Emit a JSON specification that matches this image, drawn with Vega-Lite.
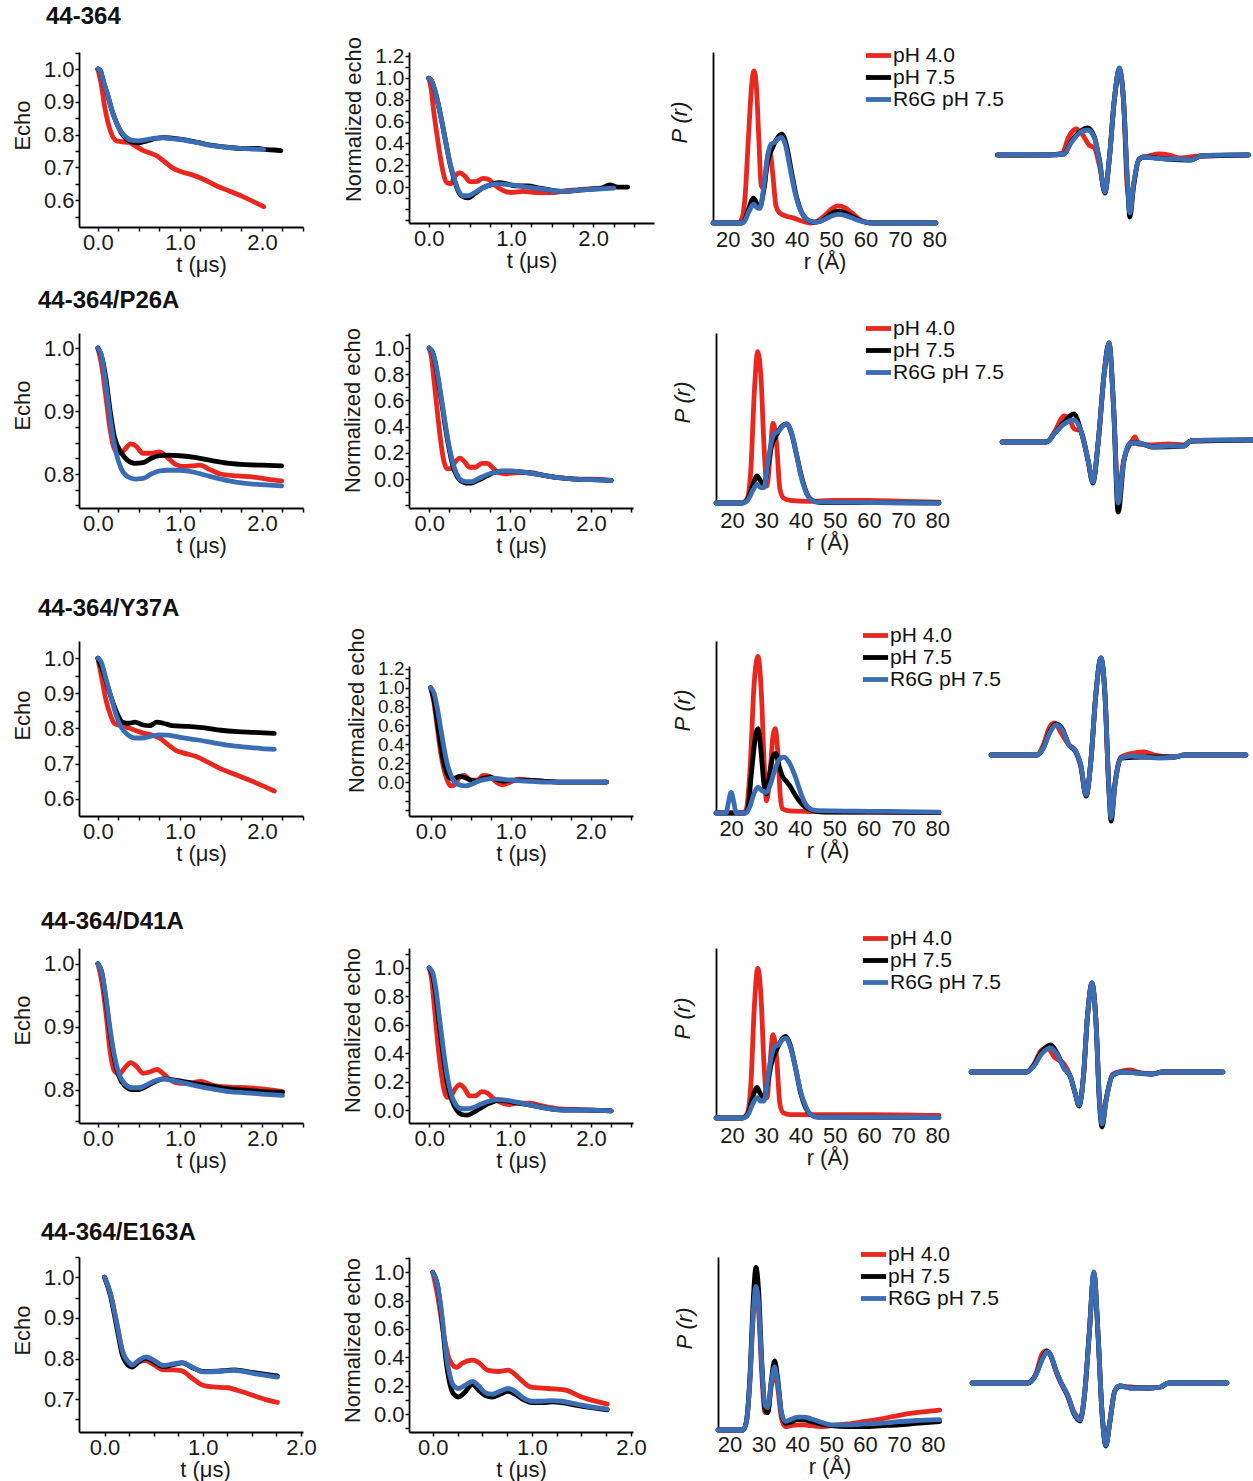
{
"$schema":"https://vega.github.io/schema/vega-lite/v6.json",
"background":"white",
"padding":{"left":11,"top":5,"right":0,"bottom":2},
"config":{
 "font":"Liberation Sans",
 "view":{"stroke":null},
 "range":{"category":["#e8281f","#000000","#3b6db5"]},
 "line":{"strokeWidth":4.8,"strokeCap":"round","strokeJoin":"round","interpolate":"monotone"},
 "axis":{"grid":false,"domainColor":"#000","domainWidth":1.8,"tickColor":"#000","tickWidth":1.5,"tickSize":4,"labelFont":"Liberation Sans","labelFontSize":22,"labelColor":"#1a1a1a","labelPadding":1,"titleFont":"Liberation Sans","titleFontSize":22,"titleFontWeight":"normal","titleColor":"#1a1a1a","labelOverlap":false,"labelFlush":false,"labelBound":false},
 "axisX":{"titlePadding":1},
 "axisY":{"titlePadding":9},
 "legend":{"orient":"none","symbolType":"M-1.4,0H1.4","symbolStrokeWidth":5,"symbolSize":324,"labelFont":"Liberation Sans","labelFontSize":21,"labelColor":"#111","rowPadding":0,"labelOffset":3,"padding":0,"labelLimit":300},
 "title":{"font":"Liberation Sans","fontSize":24,"fontWeight":"bold","color":"#111","anchor":"start","frame":"group"}
},
"datasets":{
"r1a":[
{"s":"A","x":0,"y":1.0},{"s":"A","x":0.04,"y":0.955},{"s":"A","x":0.08,"y":0.89},{"s":"A","x":0.12,"y":0.84},{"s":"A","x":0.17,"y":0.8},{"s":"A","x":0.22,"y":0.782},{"s":"A","x":0.3,"y":0.778},{"s":"A","x":0.38,"y":0.776},{"s":"A","x":0.45,"y":0.766},{"s":"A","x":0.55,"y":0.752},{"s":"A","x":0.65,"y":0.742},{"s":"A","x":0.72,"y":0.735},{"s":"A","x":0.8,"y":0.72},{"s":"A","x":0.9,"y":0.7},{"s":"A","x":1.0,"y":0.688},{"s":"A","x":1.15,"y":0.677},{"s":"A","x":1.3,"y":0.662},{"s":"A","x":1.45,"y":0.643},{"s":"A","x":1.6,"y":0.628},{"s":"A","x":1.8,"y":0.607},{"s":"A","x":2.02,"y":0.58},
{"s":"B","x":0,"y":1.0},{"s":"B","x":0.03,"y":0.995},{"s":"B","x":0.07,"y":0.96},{"s":"B","x":0.12,"y":0.92},{"s":"B","x":0.17,"y":0.875},{"s":"B","x":0.22,"y":0.84},{"s":"B","x":0.28,"y":0.808},{"s":"B","x":0.34,"y":0.788},{"s":"B","x":0.42,"y":0.777},{"s":"B","x":0.5,"y":0.775},{"s":"B","x":0.6,"y":0.781},{"s":"B","x":0.7,"y":0.788},{"s":"B","x":0.8,"y":0.791},{"s":"B","x":0.9,"y":0.789},{"s":"B","x":1.0,"y":0.786},{"s":"B","x":1.2,"y":0.777},{"s":"B","x":1.4,"y":0.767},{"s":"B","x":1.6,"y":0.761},{"s":"B","x":1.8,"y":0.757},{"s":"B","x":1.95,"y":0.758},{"s":"B","x":2.05,"y":0.754},{"s":"B","x":2.15,"y":0.753},{"s":"B","x":2.23,"y":0.751},
{"s":"C","x":0,"y":1.0},{"s":"C","x":0.03,"y":0.995},{"s":"C","x":0.07,"y":0.96},{"s":"C","x":0.12,"y":0.92},{"s":"C","x":0.17,"y":0.875},{"s":"C","x":0.22,"y":0.84},{"s":"C","x":0.28,"y":0.81},{"s":"C","x":0.34,"y":0.793},{"s":"C","x":0.42,"y":0.782},{"s":"C","x":0.5,"y":0.781},{"s":"C","x":0.6,"y":0.785},{"s":"C","x":0.7,"y":0.789},{"s":"C","x":0.8,"y":0.79},{"s":"C","x":0.9,"y":0.788},{"s":"C","x":1.0,"y":0.785},{"s":"C","x":1.2,"y":0.776},{"s":"C","x":1.4,"y":0.766},{"s":"C","x":1.6,"y":0.76},{"s":"C","x":1.8,"y":0.757},{"s":"C","x":2.02,"y":0.754}
],
"r1b":[
{"s":"A","x":0,"y":1.0},{"s":"A","x":0.03,"y":0.9},{"s":"A","x":0.06,"y":0.7},{"s":"A","x":0.1,"y":0.48},{"s":"A","x":0.14,"y":0.28},{"s":"A","x":0.18,"y":0.12},{"s":"A","x":0.22,"y":0.04},{"s":"A","x":0.27,"y":0.03},{"s":"A","x":0.32,"y":0.1},{"s":"A","x":0.38,"y":0.13},{"s":"A","x":0.44,"y":0.1},{"s":"A","x":0.5,"y":0.05},{"s":"A","x":0.58,"y":0.05},{"s":"A","x":0.66,"y":0.08},{"s":"A","x":0.73,"y":0.07},{"s":"A","x":0.8,"y":0.02},{"s":"A","x":0.9,"y":-0.03},{"s":"A","x":1.0,"y":-0.05},{"s":"A","x":1.15,"y":-0.04},{"s":"A","x":1.3,"y":-0.05},{"s":"A","x":1.5,"y":-0.05},{"s":"A","x":1.7,"y":-0.03},{"s":"A","x":1.9,"y":-0.02},{"s":"A","x":2.1,"y":-0.01},{"s":"A","x":2.25,"y":0.0},
{"s":"B","x":0,"y":1.0},{"s":"B","x":0.03,"y":0.98},{"s":"B","x":0.07,"y":0.9},{"s":"B","x":0.11,"y":0.78},{"s":"B","x":0.16,"y":0.6},{"s":"B","x":0.21,"y":0.4},{"s":"B","x":0.26,"y":0.21},{"s":"B","x":0.31,"y":0.07},{"s":"B","x":0.36,"y":-0.04},{"s":"B","x":0.42,"y":-0.09},{"s":"B","x":0.48,"y":-0.1},{"s":"B","x":0.56,"y":-0.06},{"s":"B","x":0.65,"y":-0.01},{"s":"B","x":0.75,"y":0.02},{"s":"B","x":0.85,"y":0.04},{"s":"B","x":0.95,"y":0.03},{"s":"B","x":1.05,"y":0.01},{"s":"B","x":1.2,"y":0.01},{"s":"B","x":1.35,"y":-0.01},{"s":"B","x":1.5,"y":-0.03},{"s":"B","x":1.65,"y":-0.04},{"s":"B","x":1.8,"y":-0.03},{"s":"B","x":1.95,"y":-0.02},{"s":"B","x":2.1,"y":-0.01},{"s":"B","x":2.2,"y":0.02},{"s":"B","x":2.3,"y":0.0},{"s":"B","x":2.42,"y":0.0},
{"s":"C","x":0,"y":1.0},{"s":"C","x":0.03,"y":0.98},{"s":"C","x":0.07,"y":0.9},{"s":"C","x":0.11,"y":0.78},{"s":"C","x":0.16,"y":0.6},{"s":"C","x":0.21,"y":0.4},{"s":"C","x":0.26,"y":0.22},{"s":"C","x":0.31,"y":0.08},{"s":"C","x":0.36,"y":-0.03},{"s":"C","x":0.42,"y":-0.08},{"s":"C","x":0.48,"y":-0.08},{"s":"C","x":0.56,"y":-0.05},{"s":"C","x":0.65,"y":-0.01},{"s":"C","x":0.75,"y":0.02},{"s":"C","x":0.85,"y":0.03},{"s":"C","x":1.0,"y":0.02},{"s":"C","x":1.2,"y":0.0},{"s":"C","x":1.4,"y":-0.02},{"s":"C","x":1.6,"y":-0.04},{"s":"C","x":1.8,"y":-0.03},{"s":"C","x":2.0,"y":-0.02},{"s":"C","x":2.25,"y":-0.01}
],
"r1c":[
{"s":"A","x":15.7,"y":0},{"s":"A","x":23,"y":0},{"s":"A","x":24,"y":0.02},{"s":"A","x":25,"y":0.15},{"s":"A","x":26,"y":0.5},{"s":"A","x":27,"y":0.82},{"s":"A","x":27.6,"y":0.89},{"s":"A","x":28.3,"y":0.8},{"s":"A","x":29,"y":0.5},{"s":"A","x":29.7,"y":0.22},{"s":"A","x":30.5,"y":0.2},{"s":"A","x":31.3,"y":0.35},{"s":"A","x":32.1,"y":0.43},{"s":"A","x":33,"y":0.3},{"s":"A","x":34,"y":0.1},{"s":"A","x":35,"y":0.06},{"s":"A","x":37,"y":0.04},{"s":"A","x":39,"y":0.03},{"s":"A","x":41,"y":0.015},{"s":"A","x":44,"y":0.0},{"s":"A","x":46,"y":0.01},{"s":"A","x":48,"y":0.04},{"s":"A","x":50,"y":0.08},{"s":"A","x":52,"y":0.1},{"s":"A","x":54,"y":0.09},{"s":"A","x":56,"y":0.06},{"s":"A","x":58,"y":0.025},{"s":"A","x":60,"y":0.005},{"s":"A","x":62,"y":0},{"s":"A","x":80.5,"y":0},
{"s":"B","x":15.7,"y":0},{"s":"B","x":24,"y":0},{"s":"B","x":25,"y":0.02},{"s":"B","x":26,"y":0.08},{"s":"B","x":27.5,"y":0.145},{"s":"B","x":28.5,"y":0.11},{"s":"B","x":29.3,"y":0.09},{"s":"B","x":30.5,"y":0.2},{"s":"B","x":31.5,"y":0.35},{"s":"B","x":33,"y":0.44},{"s":"B","x":34.5,"y":0.5},{"s":"B","x":35.7,"y":0.52},{"s":"B","x":37,"y":0.46},{"s":"B","x":38.5,"y":0.3},{"s":"B","x":40,"y":0.15},{"s":"B","x":41.5,"y":0.06},{"s":"B","x":43,"y":0.02},{"s":"B","x":45,"y":0.005},{"s":"B","x":47,"y":0.01},{"s":"B","x":49,"y":0.04},{"s":"B","x":51,"y":0.065},{"s":"B","x":52.5,"y":0.07},{"s":"B","x":54,"y":0.06},{"s":"B","x":56,"y":0.04},{"s":"B","x":58,"y":0.018},{"s":"B","x":60,"y":0.005},{"s":"B","x":62,"y":0},{"s":"B","x":80.5,"y":0},
{"s":"C","x":15.7,"y":0},{"s":"C","x":24,"y":0},{"s":"C","x":25,"y":0.015},{"s":"C","x":26,"y":0.06},{"s":"C","x":27.5,"y":0.11},{"s":"C","x":28.5,"y":0.09},{"s":"C","x":29.3,"y":0.085},{"s":"C","x":30.5,"y":0.22},{"s":"C","x":31.5,"y":0.38},{"s":"C","x":32.5,"y":0.46},{"s":"C","x":33.5,"y":0.47},{"s":"C","x":34.5,"y":0.49},{"s":"C","x":35.5,"y":0.5},{"s":"C","x":36.7,"y":0.46},{"s":"C","x":38,"y":0.33},{"s":"C","x":39.5,"y":0.18},{"s":"C","x":41,"y":0.08},{"s":"C","x":42.5,"y":0.03},{"s":"C","x":44,"y":0.01},{"s":"C","x":46,"y":0.005},{"s":"C","x":48,"y":0.02},{"s":"C","x":50,"y":0.04},{"s":"C","x":52,"y":0.05},{"s":"C","x":54,"y":0.045},{"s":"C","x":56,"y":0.03},{"s":"C","x":58,"y":0.015},{"s":"C","x":60,"y":0.005},{"s":"C","x":62,"y":0},{"s":"C","x":80.5,"y":0}
],
"r1d":[
{"s":"A","x":0.7,"y":0},{"s":"A","x":20,"y":0},{"s":"A","x":26,"y":0.02},{"s":"A","x":28.5,"y":0.18},{"s":"A","x":31.5,"y":0.26},{"s":"A","x":34,"y":0.2},{"s":"A","x":36.5,"y":0.1},{"s":"A","x":38.6,"y":0.07},{"s":"A","x":40.5,"y":-0.1},{"s":"A","x":42.7,"y":-0.35},{"s":"A","x":44.4,"y":-0.05},{"s":"A","x":46.4,"y":0.55},{"s":"A","x":48.4,"y":0.85},{"s":"A","x":50,"y":0.55},{"s":"A","x":51.4,"y":-0.3},{"s":"A","x":52,"y":-0.42},{"s":"A","x":52.6,"y":-0.48},{"s":"A","x":54,"y":-0.3},{"s":"A","x":56,"y":-0.04},{"s":"A","x":60,"y":-0.01},{"s":"A","x":64,"y":0.01},{"s":"A","x":68,"y":0},{"s":"A","x":72,"y":-0.03},{"s":"A","x":80,"y":-0.01},{"s":"A","x":99,"y":0},
{"s":"B","x":0.5,"y":0},{"s":"B","x":20,"y":0},{"s":"B","x":26.7,"y":0.01},{"s":"B","x":29.4,"y":0.13},{"s":"B","x":33.3,"y":0.24},{"s":"B","x":36,"y":0.27},{"s":"B","x":38.6,"y":0.18},{"s":"B","x":40.5,"y":-0.04},{"s":"B","x":42.7,"y":-0.38},{"s":"B","x":44.4,"y":-0.05},{"s":"B","x":46.4,"y":0.55},{"s":"B","x":48.4,"y":0.86},{"s":"B","x":50,"y":0.55},{"s":"B","x":51.6,"y":-0.3},{"s":"B","x":52.5,"y":-0.62},{"s":"B","x":54,"y":-0.3},{"s":"B","x":56,"y":-0.05},{"s":"B","x":58,"y":-0.02},{"s":"B","x":67,"y":-0.04},{"s":"B","x":76.5,"y":-0.05},{"s":"B","x":80.4,"y":-0.01},{"s":"B","x":99,"y":0},
{"s":"C","x":0.7,"y":0},{"s":"C","x":10,"y":0.005},{"s":"C","x":20,"y":0},{"s":"C","x":26.7,"y":0.01},{"s":"C","x":29.4,"y":0.12},{"s":"C","x":33.3,"y":0.23},{"s":"C","x":36,"y":0.25},{"s":"C","x":38.6,"y":0.17},{"s":"C","x":40.5,"y":-0.05},{"s":"C","x":42.7,"y":-0.37},{"s":"C","x":44.4,"y":-0.05},{"s":"C","x":46.4,"y":0.55},{"s":"C","x":48.4,"y":0.87},{"s":"C","x":50,"y":0.55},{"s":"C","x":51.6,"y":-0.28},{"s":"C","x":52.5,"y":-0.58},{"s":"C","x":54,"y":-0.28},{"s":"C","x":56,"y":-0.05},{"s":"C","x":58,"y":-0.02},{"s":"C","x":62,"y":-0.03},{"s":"C","x":67.3,"y":-0.04},{"s":"C","x":72,"y":-0.04},{"s":"C","x":76.5,"y":-0.05},{"s":"C","x":80.4,"y":-0.01},{"s":"C","x":90,"y":0},{"s":"C","x":99,"y":0}
],
"r2a":[
{"s":"A","x":0,"y":1.0},{"s":"A","x":0.05,"y":0.97},{"s":"A","x":0.1,"y":0.92},{"s":"A","x":0.15,"y":0.87},{"s":"A","x":0.2,"y":0.84},{"s":"A","x":0.25,"y":0.833},{"s":"A","x":0.32,"y":0.838},{"s":"A","x":0.4,"y":0.848},{"s":"A","x":0.46,"y":0.845},{"s":"A","x":0.55,"y":0.833},{"s":"A","x":0.65,"y":0.833},{"s":"A","x":0.75,"y":0.835},{"s":"A","x":0.85,"y":0.826},{"s":"A","x":0.95,"y":0.815},{"s":"A","x":1.05,"y":0.812},{"s":"A","x":1.15,"y":0.813},{"s":"A","x":1.25,"y":0.814},{"s":"A","x":1.35,"y":0.808},{"s":"A","x":1.5,"y":0.8},{"s":"A","x":1.7,"y":0.797},{"s":"A","x":1.9,"y":0.795},{"s":"A","x":2.1,"y":0.791},{"s":"A","x":2.24,"y":0.789},
{"s":"B","x":0,"y":1.0},{"s":"B","x":0.05,"y":0.985},{"s":"B","x":0.1,"y":0.95},{"s":"B","x":0.15,"y":0.9},{"s":"B","x":0.2,"y":0.86},{"s":"B","x":0.28,"y":0.835},{"s":"B","x":0.36,"y":0.822},{"s":"B","x":0.45,"y":0.817},{"s":"B","x":0.55,"y":0.818},{"s":"B","x":0.65,"y":0.825},{"s":"B","x":0.75,"y":0.829},{"s":"B","x":0.85,"y":0.83},{"s":"B","x":1.0,"y":0.829},{"s":"B","x":1.2,"y":0.826},{"s":"B","x":1.4,"y":0.821},{"s":"B","x":1.6,"y":0.817},{"s":"B","x":1.8,"y":0.815},{"s":"B","x":2.0,"y":0.814},{"s":"B","x":2.24,"y":0.813},
{"s":"C","x":0,"y":1.0},{"s":"C","x":0.04,"y":0.99},{"s":"C","x":0.08,"y":0.96},{"s":"C","x":0.12,"y":0.92},{"s":"C","x":0.17,"y":0.87},{"s":"C","x":0.22,"y":0.835},{"s":"C","x":0.28,"y":0.81},{"s":"C","x":0.35,"y":0.797},{"s":"C","x":0.45,"y":0.792},{"s":"C","x":0.55,"y":0.793},{"s":"C","x":0.65,"y":0.8},{"s":"C","x":0.75,"y":0.805},{"s":"C","x":0.85,"y":0.806},{"s":"C","x":1.0,"y":0.806},{"s":"C","x":1.2,"y":0.802},{"s":"C","x":1.4,"y":0.795},{"s":"C","x":1.6,"y":0.789},{"s":"C","x":1.8,"y":0.785},{"s":"C","x":2.0,"y":0.783},{"s":"C","x":2.24,"y":0.781}
],
"r2b":[
{"s":"A","x":0,"y":1.0},{"s":"A","x":0.03,"y":0.92},{"s":"A","x":0.06,"y":0.75},{"s":"A","x":0.1,"y":0.52},{"s":"A","x":0.14,"y":0.3},{"s":"A","x":0.18,"y":0.14},{"s":"A","x":0.22,"y":0.08},{"s":"A","x":0.27,"y":0.08},{"s":"A","x":0.32,"y":0.13},{"s":"A","x":0.38,"y":0.16},{"s":"A","x":0.44,"y":0.13},{"s":"A","x":0.5,"y":0.09},{"s":"A","x":0.57,"y":0.09},{"s":"A","x":0.65,"y":0.12},{"s":"A","x":0.72,"y":0.12},{"s":"A","x":0.78,"y":0.09},{"s":"A","x":0.85,"y":0.05},{"s":"A","x":0.95,"y":0.04},{"s":"A","x":1.1,"y":0.05},{"s":"A","x":1.25,"y":0.05},{"s":"A","x":1.4,"y":0.03},{"s":"A","x":1.6,"y":0.01},{"s":"A","x":1.8,"y":0.0},{"s":"A","x":2.0,"y":0.0},{"s":"A","x":2.25,"y":-0.01},
{"s":"B","x":0,"y":1.0},{"s":"B","x":0.04,"y":0.97},{"s":"B","x":0.08,"y":0.87},{"s":"B","x":0.12,"y":0.72},{"s":"B","x":0.17,"y":0.52},{"s":"B","x":0.22,"y":0.32},{"s":"B","x":0.27,"y":0.16},{"s":"B","x":0.32,"y":0.05},{"s":"B","x":0.38,"y":-0.01},{"s":"B","x":0.45,"y":-0.03},{"s":"B","x":0.52,"y":-0.03},{"s":"B","x":0.6,"y":-0.01},{"s":"B","x":0.7,"y":0.02},{"s":"B","x":0.8,"y":0.05},{"s":"B","x":0.9,"y":0.06},{"s":"B","x":1.0,"y":0.06},{"s":"B","x":1.2,"y":0.05},{"s":"B","x":1.4,"y":0.03},{"s":"B","x":1.6,"y":0.01},{"s":"B","x":1.8,"y":0.0},{"s":"B","x":2.0,"y":-0.005},{"s":"B","x":2.25,"y":-0.01},
{"s":"C","x":0,"y":1.0},{"s":"C","x":0.04,"y":0.97},{"s":"C","x":0.08,"y":0.88},{"s":"C","x":0.12,"y":0.74},{"s":"C","x":0.17,"y":0.54},{"s":"C","x":0.22,"y":0.34},{"s":"C","x":0.27,"y":0.18},{"s":"C","x":0.32,"y":0.07},{"s":"C","x":0.38,"y":0.0},{"s":"C","x":0.45,"y":-0.02},{"s":"C","x":0.52,"y":-0.02},{"s":"C","x":0.6,"y":0.0},{"s":"C","x":0.7,"y":0.03},{"s":"C","x":0.8,"y":0.05},{"s":"C","x":0.9,"y":0.06},{"s":"C","x":1.0,"y":0.06},{"s":"C","x":1.2,"y":0.05},{"s":"C","x":1.4,"y":0.03},{"s":"C","x":1.6,"y":0.01},{"s":"C","x":1.8,"y":0.0},{"s":"C","x":2.0,"y":-0.005},{"s":"C","x":2.25,"y":-0.01}
],
"r2c":[
{"s":"A","x":15.3,"y":0},{"s":"A","x":23,"y":0},{"s":"A","x":24.5,"y":0.03},{"s":"A","x":25.5,"y":0.2},{"s":"A","x":26.5,"y":0.65},{"s":"A","x":27.5,"y":0.89},{"s":"A","x":28.5,"y":0.72},{"s":"A","x":29.3,"y":0.35},{"s":"A","x":30.2,"y":0.1},{"s":"A","x":31,"y":0.25},{"s":"A","x":32,"y":0.47},{"s":"A","x":33,"y":0.35},{"s":"A","x":34,"y":0.08},{"s":"A","x":35,"y":0.03},{"s":"A","x":37,"y":0.015},{"s":"A","x":42,"y":0.01},{"s":"A","x":50,"y":0.015},{"s":"A","x":60,"y":0.015},{"s":"A","x":70,"y":0.01},{"s":"A","x":80.5,"y":0.005},
{"s":"B","x":15.3,"y":0},{"s":"B","x":23,"y":0},{"s":"B","x":24.5,"y":0.02},{"s":"B","x":26,"y":0.1},{"s":"B","x":27.3,"y":0.16},{"s":"B","x":28.3,"y":0.13},{"s":"B","x":29.3,"y":0.1},{"s":"B","x":30.5,"y":0.22},{"s":"B","x":31.5,"y":0.33},{"s":"B","x":33,"y":0.4},{"s":"B","x":34.5,"y":0.45},{"s":"B","x":36,"y":0.465},{"s":"B","x":37.5,"y":0.4},{"s":"B","x":39,"y":0.27},{"s":"B","x":40.5,"y":0.14},{"s":"B","x":42,"y":0.05},{"s":"B","x":44,"y":0.01},{"s":"B","x":46,"y":0.003},{"s":"B","x":60,"y":0.003},{"s":"B","x":80.5,"y":0},
{"s":"C","x":15.3,"y":0},{"s":"C","x":23,"y":0},{"s":"C","x":24.5,"y":0.015},{"s":"C","x":26,"y":0.07},{"s":"C","x":27.3,"y":0.11},{"s":"C","x":28.3,"y":0.09},{"s":"C","x":29.3,"y":0.09},{"s":"C","x":30.5,"y":0.24},{"s":"C","x":31.5,"y":0.36},{"s":"C","x":32.5,"y":0.41},{"s":"C","x":33.5,"y":0.42},{"s":"C","x":35,"y":0.455},{"s":"C","x":36,"y":0.465},{"s":"C","x":37.3,"y":0.42},{"s":"C","x":38.7,"y":0.3},{"s":"C","x":40,"y":0.17},{"s":"C","x":41.5,"y":0.07},{"s":"C","x":43,"y":0.02},{"s":"C","x":45,"y":0.005},{"s":"C","x":60,"y":0.003},{"s":"C","x":80.5,"y":0}
],
"r2d":[
{"s":"A","x":0.4,"y":-0.01},{"s":"A","x":18,"y":-0.01},{"s":"A","x":21.3,"y":0.1},{"s":"A","x":25,"y":0.25},{"s":"A","x":27,"y":0.22},{"s":"A","x":29,"y":0.12},{"s":"A","x":31.6,"y":0.1},{"s":"A","x":34.4,"y":-0.2},{"s":"A","x":36.3,"y":-0.4},{"s":"A","x":38.5,"y":0.01},{"s":"A","x":40.8,"y":0.68},{"s":"A","x":42.7,"y":0.97},{"s":"A","x":44.5,"y":0.34},{"s":"A","x":46.3,"y":-0.5},{"s":"A","x":48.6,"y":-0.18},{"s":"A","x":51.3,"y":-0.02},{"s":"A","x":53,"y":0.04},{"s":"A","x":54.3,"y":-0.03},{"s":"A","x":60,"y":-0.04},{"s":"A","x":66,"y":-0.03},{"s":"A","x":72.3,"y":-0.04},{"s":"A","x":75,"y":0},{"s":"A","x":100,"y":0.01},
{"s":"B","x":0.4,"y":-0.01},{"s":"B","x":18,"y":-0.01},{"s":"B","x":21.3,"y":0.08},{"s":"B","x":25,"y":0.19},{"s":"B","x":28.8,"y":0.27},{"s":"B","x":31.6,"y":0.1},{"s":"B","x":34.4,"y":-0.19},{"s":"B","x":36.3,"y":-0.42},{"s":"B","x":38.5,"y":0.01},{"s":"B","x":40.8,"y":0.68},{"s":"B","x":42.7,"y":0.98},{"s":"B","x":44.5,"y":0.34},{"s":"B","x":46.3,"y":-0.71},{"s":"B","x":48.6,"y":-0.2},{"s":"B","x":51.3,"y":-0.02},{"s":"B","x":54.3,"y":-0.02},{"s":"B","x":60,"y":-0.06},{"s":"B","x":72.3,"y":-0.05},{"s":"B","x":75,"y":0},{"s":"B","x":100,"y":0.01},
{"s":"C","x":0.4,"y":-0.01},{"s":"C","x":10,"y":-0.01},{"s":"C","x":18,"y":-0.01},{"s":"C","x":21.3,"y":0.08},{"s":"C","x":25,"y":0.17},{"s":"C","x":28.8,"y":0.21},{"s":"C","x":31.6,"y":0.1},{"s":"C","x":34.4,"y":-0.19},{"s":"C","x":36.3,"y":-0.41},{"s":"C","x":38.5,"y":0.01},{"s":"C","x":40.8,"y":0.68},{"s":"C","x":42.7,"y":0.98},{"s":"C","x":44.5,"y":0.34},{"s":"C","x":46.3,"y":-0.62},{"s":"C","x":48.6,"y":-0.19},{"s":"C","x":51.3,"y":-0.02},{"s":"C","x":54.3,"y":-0.02},{"s":"C","x":60,"y":-0.06},{"s":"C","x":66,"y":-0.05},{"s":"C","x":72.3,"y":-0.05},{"s":"C","x":75,"y":0},{"s":"C","x":85,"y":0.01},{"s":"C","x":100,"y":0.01}
],
"r3a":[
{"s":"A","x":0,"y":1.0},{"s":"A","x":0.05,"y":0.94},{"s":"A","x":0.1,"y":0.88},{"s":"A","x":0.15,"y":0.84},{"s":"A","x":0.2,"y":0.815},{"s":"A","x":0.28,"y":0.808},{"s":"A","x":0.36,"y":0.803},{"s":"A","x":0.45,"y":0.795},{"s":"A","x":0.55,"y":0.787},{"s":"A","x":0.65,"y":0.782},{"s":"A","x":0.75,"y":0.773},{"s":"A","x":0.85,"y":0.755},{"s":"A","x":0.95,"y":0.738},{"s":"A","x":1.05,"y":0.73},{"s":"A","x":1.2,"y":0.72},{"s":"A","x":1.35,"y":0.703},{"s":"A","x":1.5,"y":0.685},{"s":"A","x":1.7,"y":0.667},{"s":"A","x":1.9,"y":0.648},{"s":"A","x":2.15,"y":0.622},
{"s":"B","x":0,"y":1.0},{"s":"B","x":0.08,"y":0.95},{"s":"B","x":0.16,"y":0.89},{"s":"B","x":0.24,"y":0.84},{"s":"B","x":0.3,"y":0.818},{"s":"B","x":0.38,"y":0.815},{"s":"B","x":0.45,"y":0.818},{"s":"B","x":0.55,"y":0.81},{"s":"B","x":0.63,"y":0.808},{"s":"B","x":0.72,"y":0.818},{"s":"B","x":0.8,"y":0.815},{"s":"B","x":0.9,"y":0.808},{"s":"B","x":1.1,"y":0.806},{"s":"B","x":1.3,"y":0.802},{"s":"B","x":1.5,"y":0.795},{"s":"B","x":1.7,"y":0.791},{"s":"B","x":1.9,"y":0.789},{"s":"B","x":2.15,"y":0.786},
{"s":"C","x":0,"y":1.0},{"s":"C","x":0.04,"y":0.99},{"s":"C","x":0.1,"y":0.94},{"s":"C","x":0.16,"y":0.89},{"s":"C","x":0.22,"y":0.84},{"s":"C","x":0.28,"y":0.805},{"s":"C","x":0.35,"y":0.785},{"s":"C","x":0.45,"y":0.773},{"s":"C","x":0.55,"y":0.773},{"s":"C","x":0.65,"y":0.778},{"s":"C","x":0.75,"y":0.782},{"s":"C","x":0.85,"y":0.781},{"s":"C","x":1.0,"y":0.775},{"s":"C","x":1.2,"y":0.768},{"s":"C","x":1.4,"y":0.76},{"s":"C","x":1.6,"y":0.752},{"s":"C","x":1.8,"y":0.747},{"s":"C","x":2.0,"y":0.743},{"s":"C","x":2.15,"y":0.741}
],
"r3b":[
{"s":"A","x":0,"y":1.0},{"s":"A","x":0.04,"y":0.85},{"s":"A","x":0.08,"y":0.6},{"s":"A","x":0.12,"y":0.35},{"s":"A","x":0.16,"y":0.16},{"s":"A","x":0.2,"y":0.04},{"s":"A","x":0.25,"y":-0.04},{"s":"A","x":0.3,"y":-0.03},{"s":"A","x":0.36,"y":0.05},{"s":"A","x":0.42,"y":0.07},{"s":"A","x":0.5,"y":0.02},{"s":"A","x":0.58,"y":0.02},{"s":"A","x":0.66,"y":0.07},{"s":"A","x":0.74,"y":0.06},{"s":"A","x":0.82,"y":0.0},{"s":"A","x":0.9,"y":-0.03},{"s":"A","x":1.0,"y":0.0},{"s":"A","x":1.1,"y":0.03},{"s":"A","x":1.2,"y":0.02},{"s":"A","x":1.4,"y":0.01},{"s":"A","x":1.6,"y":0.0},{"s":"A","x":1.8,"y":0.0},{"s":"A","x":2.0,"y":0.0},{"s":"A","x":2.2,"y":0.0},
{"s":"B","x":0,"y":1.0},{"s":"B","x":0.04,"y":0.88},{"s":"B","x":0.08,"y":0.66},{"s":"B","x":0.12,"y":0.42},{"s":"B","x":0.16,"y":0.22},{"s":"B","x":0.2,"y":0.1},{"s":"B","x":0.25,"y":0.04},{"s":"B","x":0.3,"y":0.04},{"s":"B","x":0.36,"y":0.06},{"s":"B","x":0.42,"y":0.05},{"s":"B","x":0.5,"y":0.02},{"s":"B","x":0.58,"y":0.01},{"s":"B","x":0.66,"y":0.04},{"s":"B","x":0.74,"y":0.05},{"s":"B","x":0.82,"y":0.03},{"s":"B","x":0.9,"y":0.01},{"s":"B","x":1.0,"y":0.02},{"s":"B","x":1.2,"y":0.02},{"s":"B","x":1.4,"y":0.01},{"s":"B","x":1.6,"y":0.0},{"s":"B","x":2.0,"y":0.0},{"s":"B","x":2.2,"y":0.0},
{"s":"C","x":0,"y":1.0},{"s":"C","x":0.04,"y":0.95},{"s":"C","x":0.08,"y":0.8},{"s":"C","x":0.12,"y":0.6},{"s":"C","x":0.16,"y":0.4},{"s":"C","x":0.2,"y":0.22},{"s":"C","x":0.25,"y":0.08},{"s":"C","x":0.3,"y":0.0},{"s":"C","x":0.36,"y":-0.03},{"s":"C","x":0.44,"y":-0.04},{"s":"C","x":0.52,"y":-0.02},{"s":"C","x":0.6,"y":0.01},{"s":"C","x":0.7,"y":0.03},{"s":"C","x":0.8,"y":0.04},{"s":"C","x":0.9,"y":0.03},{"s":"C","x":1.0,"y":0.02},{"s":"C","x":1.2,"y":0.01},{"s":"C","x":1.4,"y":0.0},{"s":"C","x":1.6,"y":0.0},{"s":"C","x":2.0,"y":0.0},{"s":"C","x":2.2,"y":0.0}
],
"r3c":[
{"s":"A","x":15.6,"y":0},{"s":"A","x":23.5,"y":0},{"s":"A","x":24.4,"y":0.02},{"s":"A","x":25.5,"y":0.25},{"s":"A","x":26.7,"y":0.75},{"s":"A","x":27.8,"y":0.91},{"s":"A","x":28.8,"y":0.7},{"s":"A","x":29.6,"y":0.3},{"s":"A","x":30.3,"y":0.07},{"s":"A","x":31.2,"y":0.2},{"s":"A","x":32.2,"y":0.45},{"s":"A","x":32.8,"y":0.49},{"s":"A","x":33.6,"y":0.35},{"s":"A","x":34.3,"y":0.1},{"s":"A","x":34.9,"y":0.025},{"s":"A","x":37,"y":0.012},{"s":"A","x":45,"y":0.008},{"s":"A","x":60,"y":0.005},{"s":"A","x":80.5,"y":0.002},
{"s":"B","x":15.6,"y":0},{"s":"B","x":24,"y":0},{"s":"B","x":24.8,"y":0.02},{"s":"B","x":26,"y":0.25},{"s":"B","x":27.2,"y":0.46},{"s":"B","x":27.8,"y":0.49},{"s":"B","x":28.6,"y":0.38},{"s":"B","x":29.6,"y":0.16},{"s":"B","x":30.3,"y":0.11},{"s":"B","x":31.3,"y":0.24},{"s":"B","x":32.4,"y":0.34},{"s":"B","x":33,"y":0.345},{"s":"B","x":34,"y":0.27},{"s":"B","x":35,"y":0.21},{"s":"B","x":35.8,"y":0.19},{"s":"B","x":37,"y":0.16},{"s":"B","x":38.5,"y":0.11},{"s":"B","x":39.7,"y":0.074},{"s":"B","x":41.5,"y":0.035},{"s":"B","x":43.6,"y":0.015},{"s":"B","x":47,"y":0.005},{"s":"B","x":60,"y":0.005},{"s":"B","x":80.5,"y":0.002},
{"s":"C","x":15.6,"y":0},{"s":"C","x":18.5,"y":0},{"s":"C","x":19.2,"y":0.06},{"s":"C","x":20,"y":0.12},{"s":"C","x":20.8,"y":0.06},{"s":"C","x":21.5,"y":0},{"s":"C","x":24.3,"y":0},{"s":"C","x":25.5,"y":0.04},{"s":"C","x":26.8,"y":0.12},{"s":"C","x":27.8,"y":0.15},{"s":"C","x":29,"y":0.13},{"s":"C","x":30.3,"y":0.12},{"s":"C","x":31.5,"y":0.17},{"s":"C","x":32.7,"y":0.25},{"s":"C","x":34,"y":0.31},{"s":"C","x":35.3,"y":0.325},{"s":"C","x":36.7,"y":0.3},{"s":"C","x":38.7,"y":0.21},{"s":"C","x":40.2,"y":0.12},{"s":"C","x":41.6,"y":0.054},{"s":"C","x":43,"y":0.025},{"s":"C","x":44.6,"y":0.015},{"s":"C","x":50,"y":0.012},{"s":"C","x":60,"y":0.01},{"s":"C","x":70,"y":0.008},{"s":"C","x":80.5,"y":0.005}
],
"r3d":[
{"s":"A","x":0,"y":0},{"s":"A","x":18,"y":0},{"s":"A","x":20.5,"y":0.1},{"s":"A","x":23,"y":0.28},{"s":"A","x":25,"y":0.32},{"s":"A","x":27.5,"y":0.22},{"s":"A","x":30.6,"y":0.1},{"s":"A","x":33,"y":0.05},{"s":"A","x":35.2,"y":-0.12},{"s":"A","x":37.3,"y":-0.4},{"s":"A","x":39.2,"y":-0.05},{"s":"A","x":41.1,"y":0.6},{"s":"A","x":43.1,"y":0.96},{"s":"A","x":44.7,"y":0.6},{"s":"A","x":46.2,"y":-0.3},{"s":"A","x":47.1,"y":-0.55},{"s":"A","x":48.6,"y":-0.28},{"s":"A","x":51,"y":-0.02},{"s":"A","x":56,"y":0.02},{"s":"A","x":60,"y":0.03},{"s":"A","x":64,"y":0},{"s":"A","x":72,"y":-0.02},{"s":"A","x":76,"y":0},{"s":"A","x":100,"y":0},
{"s":"B","x":0,"y":0},{"s":"B","x":18,"y":0},{"s":"B","x":20.5,"y":0.07},{"s":"B","x":23,"y":0.23},{"s":"B","x":25.5,"y":0.31},{"s":"B","x":28,"y":0.26},{"s":"B","x":30.6,"y":0.1},{"s":"B","x":33,"y":0.04},{"s":"B","x":35.2,"y":-0.1},{"s":"B","x":37.3,"y":-0.41},{"s":"B","x":39.2,"y":-0.05},{"s":"B","x":41.1,"y":0.6},{"s":"B","x":43.1,"y":0.97},{"s":"B","x":44.7,"y":0.6},{"s":"B","x":46.2,"y":-0.33},{"s":"B","x":47.1,"y":-0.66},{"s":"B","x":48.6,"y":-0.3},{"s":"B","x":51,"y":-0.03},{"s":"B","x":60,"y":-0.02},{"s":"B","x":72,"y":-0.02},{"s":"B","x":76,"y":0},{"s":"B","x":100,"y":0},
{"s":"C","x":0,"y":0},{"s":"C","x":10,"y":0},{"s":"C","x":18,"y":0},{"s":"C","x":20.5,"y":0.07},{"s":"C","x":23,"y":0.22},{"s":"C","x":25.5,"y":0.3},{"s":"C","x":28,"y":0.25},{"s":"C","x":30.6,"y":0.1},{"s":"C","x":33,"y":0.05},{"s":"C","x":35.2,"y":-0.1},{"s":"C","x":37.3,"y":-0.4},{"s":"C","x":39.2,"y":-0.05},{"s":"C","x":41.1,"y":0.6},{"s":"C","x":43.1,"y":0.97},{"s":"C","x":44.7,"y":0.6},{"s":"C","x":46.2,"y":-0.32},{"s":"C","x":47.1,"y":-0.63},{"s":"C","x":48.6,"y":-0.3},{"s":"C","x":51,"y":-0.03},{"s":"C","x":55,"y":-0.01},{"s":"C","x":60,"y":-0.02},{"s":"C","x":66,"y":-0.03},{"s":"C","x":72,"y":-0.02},{"s":"C","x":76,"y":0},{"s":"C","x":100,"y":0}
],
"r4a":[
{"s":"A","x":0,"y":1.0},{"s":"A","x":0.05,"y":0.97},{"s":"A","x":0.1,"y":0.92},{"s":"A","x":0.15,"y":0.86},{"s":"A","x":0.2,"y":0.83},{"s":"A","x":0.26,"y":0.825},{"s":"A","x":0.33,"y":0.835},{"s":"A","x":0.4,"y":0.843},{"s":"A","x":0.47,"y":0.837},{"s":"A","x":0.55,"y":0.826},{"s":"A","x":0.63,"y":0.828},{"s":"A","x":0.72,"y":0.832},{"s":"A","x":0.8,"y":0.825},{"s":"A","x":0.9,"y":0.814},{"s":"A","x":1.0,"y":0.81},{"s":"A","x":1.1,"y":0.81},{"s":"A","x":1.25,"y":0.813},{"s":"A","x":1.4,"y":0.807},{"s":"A","x":1.6,"y":0.804},{"s":"A","x":1.8,"y":0.803},{"s":"A","x":2.0,"y":0.801},{"s":"A","x":2.25,"y":0.797},
{"s":"B","x":0,"y":1.0},{"s":"B","x":0.05,"y":0.985},{"s":"B","x":0.1,"y":0.94},{"s":"B","x":0.15,"y":0.89},{"s":"B","x":0.2,"y":0.85},{"s":"B","x":0.26,"y":0.82},{"s":"B","x":0.33,"y":0.806},{"s":"B","x":0.42,"y":0.8},{"s":"B","x":0.5,"y":0.8},{"s":"B","x":0.6,"y":0.806},{"s":"B","x":0.7,"y":0.813},{"s":"B","x":0.8,"y":0.817},{"s":"B","x":0.9,"y":0.816},{"s":"B","x":1.0,"y":0.814},{"s":"B","x":1.2,"y":0.809},{"s":"B","x":1.4,"y":0.805},{"s":"B","x":1.6,"y":0.801},{"s":"B","x":1.8,"y":0.799},{"s":"B","x":2.0,"y":0.797},{"s":"B","x":2.25,"y":0.796},
{"s":"C","x":0,"y":1.0},{"s":"C","x":0.05,"y":0.985},{"s":"C","x":0.1,"y":0.945},{"s":"C","x":0.15,"y":0.895},{"s":"C","x":0.2,"y":0.855},{"s":"C","x":0.26,"y":0.824},{"s":"C","x":0.33,"y":0.809},{"s":"C","x":0.42,"y":0.803},{"s":"C","x":0.5,"y":0.803},{"s":"C","x":0.6,"y":0.808},{"s":"C","x":0.7,"y":0.814},{"s":"C","x":0.8,"y":0.817},{"s":"C","x":0.9,"y":0.815},{"s":"C","x":1.0,"y":0.812},{"s":"C","x":1.2,"y":0.806},{"s":"C","x":1.4,"y":0.801},{"s":"C","x":1.6,"y":0.797},{"s":"C","x":1.8,"y":0.795},{"s":"C","x":2.0,"y":0.793},{"s":"C","x":2.25,"y":0.791}
],
"r4b":[
{"s":"A","x":0,"y":1.0},{"s":"A","x":0.03,"y":0.92},{"s":"A","x":0.06,"y":0.75},{"s":"A","x":0.1,"y":0.5},{"s":"A","x":0.14,"y":0.3},{"s":"A","x":0.18,"y":0.15},{"s":"A","x":0.22,"y":0.09},{"s":"A","x":0.27,"y":0.1},{"s":"A","x":0.32,"y":0.15},{"s":"A","x":0.38,"y":0.18},{"s":"A","x":0.44,"y":0.15},{"s":"A","x":0.5,"y":0.1},{"s":"A","x":0.57,"y":0.1},{"s":"A","x":0.65,"y":0.13},{"s":"A","x":0.72,"y":0.12},{"s":"A","x":0.8,"y":0.08},{"s":"A","x":0.9,"y":0.05},{"s":"A","x":1.0,"y":0.04},{"s":"A","x":1.1,"y":0.05},{"s":"A","x":1.25,"y":0.05},{"s":"A","x":1.4,"y":0.03},{"s":"A","x":1.6,"y":0.01},{"s":"A","x":1.8,"y":0.005},{"s":"A","x":2.0,"y":0.0},{"s":"A","x":2.25,"y":-0.005},
{"s":"B","x":0,"y":1.0},{"s":"B","x":0.04,"y":0.95},{"s":"B","x":0.08,"y":0.82},{"s":"B","x":0.12,"y":0.62},{"s":"B","x":0.17,"y":0.4},{"s":"B","x":0.22,"y":0.2},{"s":"B","x":0.28,"y":0.07},{"s":"B","x":0.34,"y":0.0},{"s":"B","x":0.4,"y":-0.03},{"s":"B","x":0.47,"y":-0.035},{"s":"B","x":0.55,"y":-0.015},{"s":"B","x":0.65,"y":0.02},{"s":"B","x":0.75,"y":0.05},{"s":"B","x":0.85,"y":0.07},{"s":"B","x":0.95,"y":0.065},{"s":"B","x":1.1,"y":0.05},{"s":"B","x":1.3,"y":0.03},{"s":"B","x":1.5,"y":0.01},{"s":"B","x":1.7,"y":0.0},{"s":"B","x":2.0,"y":0.0},{"s":"B","x":2.25,"y":-0.005},
{"s":"C","x":0,"y":1.0},{"s":"C","x":0.04,"y":0.97},{"s":"C","x":0.08,"y":0.86},{"s":"C","x":0.12,"y":0.68},{"s":"C","x":0.17,"y":0.45},{"s":"C","x":0.22,"y":0.25},{"s":"C","x":0.28,"y":0.1},{"s":"C","x":0.34,"y":0.03},{"s":"C","x":0.4,"y":0.01},{"s":"C","x":0.47,"y":0.01},{"s":"C","x":0.55,"y":0.02},{"s":"C","x":0.65,"y":0.045},{"s":"C","x":0.75,"y":0.065},{"s":"C","x":0.85,"y":0.075},{"s":"C","x":0.95,"y":0.07},{"s":"C","x":1.1,"y":0.055},{"s":"C","x":1.3,"y":0.03},{"s":"C","x":1.5,"y":0.01},{"s":"C","x":1.7,"y":0.0},{"s":"C","x":2.0,"y":0.0},{"s":"C","x":2.25,"y":-0.005}
],
"r4c":[
{"s":"A","x":15.3,"y":0},{"s":"A","x":23,"y":0},{"s":"A","x":24.5,"y":0.03},{"s":"A","x":25.5,"y":0.2},{"s":"A","x":26.5,"y":0.65},{"s":"A","x":27.5,"y":0.88},{"s":"A","x":28.5,"y":0.7},{"s":"A","x":29.3,"y":0.33},{"s":"A","x":30.2,"y":0.12},{"s":"A","x":31,"y":0.3},{"s":"A","x":32,"y":0.49},{"s":"A","x":33,"y":0.36},{"s":"A","x":34,"y":0.08},{"s":"A","x":35,"y":0.03},{"s":"A","x":37,"y":0.02},{"s":"A","x":45,"y":0.02},{"s":"A","x":60,"y":0.02},{"s":"A","x":80.5,"y":0.015},
{"s":"B","x":15.3,"y":0},{"s":"B","x":23,"y":0},{"s":"B","x":24.5,"y":0.02},{"s":"B","x":26,"y":0.12},{"s":"B","x":27.3,"y":0.18},{"s":"B","x":28.3,"y":0.14},{"s":"B","x":29.3,"y":0.12},{"s":"B","x":30.5,"y":0.22},{"s":"B","x":31.5,"y":0.32},{"s":"B","x":33,"y":0.4},{"s":"B","x":34.5,"y":0.46},{"s":"B","x":35.7,"y":0.48},{"s":"B","x":37,"y":0.43},{"s":"B","x":38.5,"y":0.3},{"s":"B","x":40,"y":0.15},{"s":"B","x":41.5,"y":0.06},{"s":"B","x":43,"y":0.02},{"s":"B","x":45,"y":0.005},{"s":"B","x":80.5,"y":0.003},
{"s":"C","x":15.3,"y":0},{"s":"C","x":23,"y":0},{"s":"C","x":24.5,"y":0.015},{"s":"C","x":26,"y":0.08},{"s":"C","x":27.3,"y":0.12},{"s":"C","x":28.3,"y":0.1},{"s":"C","x":29.3,"y":0.1},{"s":"C","x":30.5,"y":0.24},{"s":"C","x":31.5,"y":0.36},{"s":"C","x":32.5,"y":0.42},{"s":"C","x":33.5,"y":0.43},{"s":"C","x":34.7,"y":0.46},{"s":"C","x":35.7,"y":0.47},{"s":"C","x":37,"y":0.42},{"s":"C","x":38.5,"y":0.3},{"s":"C","x":40,"y":0.16},{"s":"C","x":41.5,"y":0.07},{"s":"C","x":43,"y":0.02},{"s":"C","x":45,"y":0.005},{"s":"C","x":80.5,"y":0.003}
],
"r4d":[
{"s":"A","x":0,"y":0},{"s":"A","x":22,"y":0},{"s":"A","x":25,"y":0.08},{"s":"A","x":28,"y":0.22},{"s":"A","x":30.5,"y":0.24},{"s":"A","x":33,"y":0.15},{"s":"A","x":36.9,"y":0.08},{"s":"A","x":39.5,"y":-0.05},{"s":"A","x":41.2,"y":-0.2},{"s":"A","x":42.9,"y":-0.32},{"s":"A","x":44.6,"y":-0.05},{"s":"A","x":46.2,"y":0.55},{"s":"A","x":48,"y":0.88},{"s":"A","x":49.6,"y":0.5},{"s":"A","x":51,"y":-0.28},{"s":"A","x":52,"y":-0.47},{"s":"A","x":53.5,"y":-0.28},{"s":"A","x":56.3,"y":-0.02},{"s":"A","x":60,"y":0.01},{"s":"A","x":63,"y":0.02},{"s":"A","x":66,"y":0},{"s":"A","x":72,"y":-0.02},{"s":"A","x":76,"y":0},{"s":"A","x":100,"y":0},
{"s":"B","x":0,"y":0},{"s":"B","x":22,"y":0},{"s":"B","x":25,"y":0.07},{"s":"B","x":28,"y":0.2},{"s":"B","x":31.7,"y":0.27},{"s":"B","x":34.5,"y":0.17},{"s":"B","x":36.9,"y":0.04},{"s":"B","x":39.5,"y":-0.05},{"s":"B","x":41.2,"y":-0.2},{"s":"B","x":42.9,"y":-0.34},{"s":"B","x":44.6,"y":-0.05},{"s":"B","x":46.2,"y":0.55},{"s":"B","x":48,"y":0.89},{"s":"B","x":49.6,"y":0.5},{"s":"B","x":51,"y":-0.32},{"s":"B","x":52,"y":-0.55},{"s":"B","x":53.5,"y":-0.3},{"s":"B","x":56.3,"y":-0.03},{"s":"B","x":60,"y":0},{"s":"B","x":72,"y":-0.02},{"s":"B","x":76,"y":0},{"s":"B","x":100,"y":0},
{"s":"C","x":0,"y":0},{"s":"C","x":12,"y":0},{"s":"C","x":22,"y":0},{"s":"C","x":25,"y":0.06},{"s":"C","x":28,"y":0.18},{"s":"C","x":31.7,"y":0.24},{"s":"C","x":34.5,"y":0.16},{"s":"C","x":36.9,"y":0.04},{"s":"C","x":39.5,"y":-0.05},{"s":"C","x":41.2,"y":-0.2},{"s":"C","x":42.9,"y":-0.33},{"s":"C","x":44.6,"y":-0.05},{"s":"C","x":46.2,"y":0.55},{"s":"C","x":48,"y":0.89},{"s":"C","x":49.6,"y":0.5},{"s":"C","x":51,"y":-0.3},{"s":"C","x":52,"y":-0.52},{"s":"C","x":53.5,"y":-0.3},{"s":"C","x":56.3,"y":-0.03},{"s":"C","x":60,"y":0},{"s":"C","x":66,"y":-0.01},{"s":"C","x":72,"y":-0.02},{"s":"C","x":76,"y":0},{"s":"C","x":100,"y":0}
],
"r5a":[
{"s":"A","x":0,"y":1.0},{"s":"A","x":0.06,"y":0.96},{"s":"A","x":0.13,"y":0.88},{"s":"A","x":0.18,"y":0.82},{"s":"A","x":0.25,"y":0.787},{"s":"A","x":0.28,"y":0.782},{"s":"A","x":0.35,"y":0.792},{"s":"A","x":0.42,"y":0.795},{"s":"A","x":0.5,"y":0.785},{"s":"A","x":0.6,"y":0.772},{"s":"A","x":0.7,"y":0.772},{"s":"A","x":0.78,"y":0.77},{"s":"A","x":0.9,"y":0.75},{"s":"A","x":1.0,"y":0.734},{"s":"A","x":1.1,"y":0.73},{"s":"A","x":1.25,"y":0.728},{"s":"A","x":1.4,"y":0.718},{"s":"A","x":1.55,"y":0.706},{"s":"A","x":1.65,"y":0.698},{"s":"A","x":1.76,"y":0.692},
{"s":"B","x":0,"y":1.0},{"s":"B","x":0.06,"y":0.955},{"s":"B","x":0.13,"y":0.87},{"s":"B","x":0.18,"y":0.81},{"s":"B","x":0.25,"y":0.782},{"s":"B","x":0.28,"y":0.779},{"s":"B","x":0.35,"y":0.792},{"s":"B","x":0.42,"y":0.801},{"s":"B","x":0.5,"y":0.792},{"s":"B","x":0.6,"y":0.78},{"s":"B","x":0.7,"y":0.785},{"s":"B","x":0.79,"y":0.789},{"s":"B","x":0.89,"y":0.778},{"s":"B","x":1.01,"y":0.768},{"s":"B","x":1.15,"y":0.769},{"s":"B","x":1.32,"y":0.772},{"s":"B","x":1.52,"y":0.765},{"s":"B","x":1.76,"y":0.757},
{"s":"C","x":0,"y":1.0},{"s":"C","x":0.06,"y":0.96},{"s":"C","x":0.13,"y":0.88},{"s":"C","x":0.18,"y":0.82},{"s":"C","x":0.25,"y":0.79},{"s":"C","x":0.28,"y":0.784},{"s":"C","x":0.35,"y":0.796},{"s":"C","x":0.42,"y":0.804},{"s":"C","x":0.5,"y":0.796},{"s":"C","x":0.6,"y":0.783},{"s":"C","x":0.7,"y":0.787},{"s":"C","x":0.79,"y":0.79},{"s":"C","x":0.89,"y":0.779},{"s":"C","x":1.01,"y":0.767},{"s":"C","x":1.15,"y":0.768},{"s":"C","x":1.32,"y":0.771},{"s":"C","x":1.52,"y":0.763},{"s":"C","x":1.76,"y":0.754}
],
"r5b":[
{"s":"A","x":0,"y":1.0},{"s":"A","x":0.05,"y":0.83},{"s":"A","x":0.12,"y":0.52},{"s":"A","x":0.17,"y":0.38},{"s":"A","x":0.24,"y":0.33},{"s":"A","x":0.3,"y":0.36},{"s":"A","x":0.4,"y":0.38},{"s":"A","x":0.47,"y":0.36},{"s":"A","x":0.55,"y":0.31},{"s":"A","x":0.66,"y":0.3},{"s":"A","x":0.76,"y":0.31},{"s":"A","x":0.86,"y":0.26},{"s":"A","x":0.99,"y":0.19},{"s":"A","x":1.16,"y":0.18},{"s":"A","x":1.33,"y":0.17},{"s":"A","x":1.5,"y":0.12},{"s":"A","x":1.66,"y":0.087},{"s":"A","x":1.76,"y":0.07},
{"s":"B","x":0,"y":1.0},{"s":"B","x":0.05,"y":0.9},{"s":"B","x":0.1,"y":0.62},{"s":"B","x":0.13,"y":0.4},{"s":"B","x":0.17,"y":0.22},{"s":"B","x":0.21,"y":0.14},{"s":"B","x":0.26,"y":0.12},{"s":"B","x":0.32,"y":0.15},{"s":"B","x":0.4,"y":0.21},{"s":"B","x":0.46,"y":0.17},{"s":"B","x":0.53,"y":0.13},{"s":"B","x":0.6,"y":0.12},{"s":"B","x":0.68,"y":0.14},{"s":"B","x":0.76,"y":0.16},{"s":"B","x":0.83,"y":0.14},{"s":"B","x":0.92,"y":0.1},{"s":"B","x":1.0,"y":0.08},{"s":"B","x":1.1,"y":0.08},{"s":"B","x":1.2,"y":0.085},{"s":"B","x":1.3,"y":0.08},{"s":"B","x":1.45,"y":0.06},{"s":"B","x":1.6,"y":0.045},{"s":"B","x":1.76,"y":0.03},
{"s":"C","x":0,"y":1.0},{"s":"C","x":0.05,"y":0.9},{"s":"C","x":0.1,"y":0.65},{"s":"C","x":0.13,"y":0.45},{"s":"C","x":0.17,"y":0.28},{"s":"C","x":0.21,"y":0.2},{"s":"C","x":0.26,"y":0.18},{"s":"C","x":0.32,"y":0.2},{"s":"C","x":0.4,"y":0.23},{"s":"C","x":0.46,"y":0.2},{"s":"C","x":0.53,"y":0.15},{"s":"C","x":0.6,"y":0.14},{"s":"C","x":0.68,"y":0.16},{"s":"C","x":0.76,"y":0.18},{"s":"C","x":0.83,"y":0.16},{"s":"C","x":0.92,"y":0.11},{"s":"C","x":1.0,"y":0.09},{"s":"C","x":1.1,"y":0.09},{"s":"C","x":1.2,"y":0.095},{"s":"C","x":1.3,"y":0.09},{"s":"C","x":1.45,"y":0.07},{"s":"C","x":1.6,"y":0.05},{"s":"C","x":1.76,"y":0.035}
],
"r5c":[
{"s":"A","x":16.6,"y":0},{"s":"A","x":24,"y":0},{"s":"A","x":25,"y":0.05},{"s":"A","x":26,"y":0.28},{"s":"A","x":27,"y":0.66},{"s":"A","x":27.8,"y":0.8},{"s":"A","x":28.6,"y":0.68},{"s":"A","x":29.5,"y":0.33},{"s":"A","x":30.5,"y":0.1},{"s":"A","x":31.3,"y":0.1},{"s":"A","x":32.3,"y":0.25},{"s":"A","x":33.3,"y":0.33},{"s":"A","x":34.2,"y":0.25},{"s":"A","x":35.3,"y":0.07},{"s":"A","x":36.5,"y":0.02},{"s":"A","x":38,"y":0.025},{"s":"A","x":40,"y":0.03},{"s":"A","x":42,"y":0.03},{"s":"A","x":44,"y":0.025},{"s":"A","x":47,"y":0.02},{"s":"A","x":50,"y":0.025},{"s":"A","x":55,"y":0.035},{"s":"A","x":60,"y":0.05},{"s":"A","x":65,"y":0.065},{"s":"A","x":70,"y":0.085},{"s":"A","x":75,"y":0.1},{"s":"A","x":82,"y":0.115},
{"s":"B","x":16.6,"y":0},{"s":"B","x":24,"y":0},{"s":"B","x":25,"y":0.05},{"s":"B","x":26,"y":0.3},{"s":"B","x":27,"y":0.75},{"s":"B","x":27.8,"y":0.94},{"s":"B","x":28.6,"y":0.8},{"s":"B","x":29.5,"y":0.4},{"s":"B","x":30.5,"y":0.12},{"s":"B","x":31.3,"y":0.1},{"s":"B","x":32.3,"y":0.28},{"s":"B","x":33.3,"y":0.4},{"s":"B","x":34.2,"y":0.3},{"s":"B","x":35.3,"y":0.1},{"s":"B","x":36.5,"y":0.04},{"s":"B","x":38,"y":0.045},{"s":"B","x":40,"y":0.06},{"s":"B","x":42,"y":0.058},{"s":"B","x":44,"y":0.05},{"s":"B","x":47,"y":0.035},{"s":"B","x":50,"y":0.025},{"s":"B","x":55,"y":0.02},{"s":"B","x":60,"y":0.02},{"s":"B","x":65,"y":0.025},{"s":"B","x":70,"y":0.03},{"s":"B","x":75,"y":0.038},{"s":"B","x":82,"y":0.048},
{"s":"C","x":16.6,"y":0},{"s":"C","x":24,"y":0},{"s":"C","x":25,"y":0.05},{"s":"C","x":26,"y":0.28},{"s":"C","x":27,"y":0.68},{"s":"C","x":27.8,"y":0.83},{"s":"C","x":28.6,"y":0.72},{"s":"C","x":29.5,"y":0.38},{"s":"C","x":30.5,"y":0.14},{"s":"C","x":31.3,"y":0.13},{"s":"C","x":32.3,"y":0.27},{"s":"C","x":33.3,"y":0.365},{"s":"C","x":34.2,"y":0.28},{"s":"C","x":35.3,"y":0.1},{"s":"C","x":36.5,"y":0.05},{"s":"C","x":38,"y":0.06},{"s":"C","x":40,"y":0.075},{"s":"C","x":42,"y":0.075},{"s":"C","x":44,"y":0.065},{"s":"C","x":47,"y":0.045},{"s":"C","x":50,"y":0.03},{"s":"C","x":55,"y":0.03},{"s":"C","x":60,"y":0.035},{"s":"C","x":65,"y":0.04},{"s":"C","x":70,"y":0.048},{"s":"C","x":75,"y":0.055},{"s":"C","x":82,"y":0.06}
],
"r5d":[
{"s":"A","x":0,"y":0},{"s":"A","x":22,"y":0},{"s":"A","x":25,"y":0.09},{"s":"A","x":27.5,"y":0.29},{"s":"A","x":29,"y":0.32},{"s":"A","x":31,"y":0.26},{"s":"A","x":33,"y":0.11},{"s":"A","x":35,"y":-0.01},{"s":"A","x":37.5,"y":-0.12},{"s":"A","x":40,"y":-0.29},{"s":"A","x":42.4,"y":-0.35},{"s":"A","x":44.2,"y":-0.1},{"s":"A","x":46,"y":0.5},{"s":"A","x":47.8,"y":1.09},{"s":"A","x":49.5,"y":0.45},{"s":"A","x":51,"y":-0.3},{"s":"A","x":52.5,"y":-0.6},{"s":"A","x":54,"y":-0.4},{"s":"A","x":56,"y":-0.08},{"s":"A","x":58,"y":-0.03},{"s":"A","x":62,"y":-0.04},{"s":"A","x":70,"y":-0.05},{"s":"A","x":74,"y":-0.04},{"s":"A","x":77,"y":0},{"s":"A","x":100,"y":0},
{"s":"B","x":0,"y":0},{"s":"B","x":22,"y":0},{"s":"B","x":25,"y":0.08},{"s":"B","x":28,"y":0.27},{"s":"B","x":29.4,"y":0.32},{"s":"B","x":31,"y":0.27},{"s":"B","x":33,"y":0.12},{"s":"B","x":35,"y":0},{"s":"B","x":37.5,"y":-0.13},{"s":"B","x":40,"y":-0.31},{"s":"B","x":42.4,"y":-0.38},{"s":"B","x":44.2,"y":-0.1},{"s":"B","x":46,"y":0.5},{"s":"B","x":47.8,"y":1.1},{"s":"B","x":49.5,"y":0.45},{"s":"B","x":51,"y":-0.3},{"s":"B","x":52.5,"y":-0.63},{"s":"B","x":54,"y":-0.4},{"s":"B","x":56,"y":-0.08},{"s":"B","x":58,"y":-0.03},{"s":"B","x":62,"y":-0.05},{"s":"B","x":70,"y":-0.05},{"s":"B","x":74,"y":-0.04},{"s":"B","x":77,"y":0},{"s":"B","x":100,"y":0},
{"s":"C","x":0,"y":0},{"s":"C","x":12,"y":0},{"s":"C","x":22,"y":0},{"s":"C","x":25,"y":0.08},{"s":"C","x":28,"y":0.26},{"s":"C","x":29.4,"y":0.31},{"s":"C","x":31,"y":0.27},{"s":"C","x":33,"y":0.12},{"s":"C","x":35,"y":0},{"s":"C","x":37.5,"y":-0.12},{"s":"C","x":40,"y":-0.3},{"s":"C","x":42.4,"y":-0.37},{"s":"C","x":44.2,"y":-0.1},{"s":"C","x":46,"y":0.5},{"s":"C","x":47.8,"y":1.11},{"s":"C","x":49.5,"y":0.45},{"s":"C","x":51,"y":-0.3},{"s":"C","x":52.5,"y":-0.62},{"s":"C","x":54,"y":-0.4},{"s":"C","x":56,"y":-0.08},{"s":"C","x":58,"y":-0.03},{"s":"C","x":62,"y":-0.05},{"s":"C","x":70,"y":-0.05},{"s":"C","x":74,"y":-0.04},{"s":"C","x":77,"y":0},{"s":"C","x":100,"y":0}
]
},
"spacing":41,
"resolve":{"scale":{"color":"independent"},"legend":{"color":"independent"}},
"vconcat":[
{"spacing":14,"resolve":{"scale":{"color":"independent"},"legend":{"color":"independent"}},
"vconcat":[
{"title":{"text":"44-364","dx":-33,"offset":7},"bounds":"flush","spacing":106,"resolve":{"scale":{"color":"independent"},"legend":{"color":"independent"}},
"hconcat":[
{"width":224,"height":175,"data":{"name":"r1a"},"mark":"line","encoding":{
"x":{"field":"x","type":"quantitative","scale":{"domain":[-0.23,2.5],"nice":false,"zero":false},"axis":{"title":"t (μs)","titleX":122,"values":[0,0.25,0.5,0.75,1,1.25,1.5,1.75,2,2.25,2.5],"labelExpr":"abs(datum.value-round(datum.value))<0.01?format(datum.value,'.1f'):''"}},
"y":{"field":"y","type":"quantitative","scale":{"domain":[0.518,1.052],"nice":false,"zero":false},"axis":{"title":"Echo","titleY":73,"values":[0.55,0.6,0.65,0.7,0.75,0.8,0.85,0.9,0.95,1,1.05],"labelExpr":"abs(datum.value*10-round(datum.value*10))<0.01?format(datum.value,'.1f'):''"}},
"color":{"field":"s","type":"nominal","legend":null}}},
{"bounds":"flush","spacing":59,"resolve":{"scale":{"color":"independent"},"legend":{"color":"independent"}},"hconcat":[
{"width":245,"height":171,"data":{"name":"r1b"},"mark":"line","encoding":{
"x":{"field":"x","type":"quantitative","scale":{"domain":[-0.24,2.74],"nice":false,"zero":false},"axis":{"title":"t (μs)","values":[0,0.25,0.5,0.75,1,1.25,1.5,1.75,2,2.25,2.5],"labelExpr":"abs(datum.value-round(datum.value))<0.01?format(datum.value,'.1f'):''"}},
"y":{"field":"y","type":"quantitative","scale":{"domain":[-0.33,1.24],"nice":false,"zero":false},"axis":{"title":"Normalized echo","titleY":67,"labelFontSize":21,"values":[-0.3,-0.2,-0.1,0,0.1,0.2,0.3,0.4,0.5,0.6,0.7,0.8,0.9,1,1.1,1.2],"labelExpr":"datum.value>-0.01&&abs(datum.value*5-round(datum.value*5))<0.01?format(datum.value,'.1f'):''"}},
"color":{"field":"s","type":"nominal","legend":null}}},
{"bounds":"flush","spacing":60,"resolve":{"scale":{"color":"independent"},"legend":{"color":"independent"}},"hconcat":[
{"width":223,"height":175,"data":{"name":"r1c"},"mark":"line","encoding":{
"x":{"field":"x","type":"quantitative","scale":{"domain":[15.7,80.5],"nice":false,"zero":false},"axis":{"title":"r (Å)","values":[20,30,40,50,60,70,80],"format":"d","domain":false,"ticks":false,"labelPadding":2,"titlePadding":1}},
"y":{"field":"y","type":"quantitative","scale":{"domain":[0,1],"range":[171,0],"nice":false,"zero":false},"axis":{"title":"P (r)","titleY":70,"titleFontStyle":"italic","labels":false,"ticks":false,"titlePadding":22}},
"color":{"field":"s","type":"nominal","legend":{"title":null,"legendX":154,"legendY":-8,"labelExpr":"datum.label==='A'?'pH 4.0':datum.label==='B'?'pH 7.5':'R6G pH 7.5'"}}}},
{"width":255,"height":175,"data":{"name":"r1d"},"mark":"line","encoding":{
"x":{"field":"x","type":"quantitative","scale":{"domain":[0,100],"nice":false,"zero":false},"axis":null},
"y":{"field":"y","type":"quantitative","scale":{"domain":[-0.72,1.03],"nice":false,"zero":false},"axis":null},
"color":{"field":"s","type":"nominal","legend":null}}}
]}
]}
]},
{"title":{"text":"44-364/P26A","dx":-41,"offset":4},"bounds":"flush","spacing":106,"resolve":{"scale":{"color":"independent"},"legend":{"color":"independent"}},
"hconcat":[
{"width":224,"height":175,"data":{"name":"r2a"},"mark":"line","encoding":{
"x":{"field":"x","type":"quantitative","scale":{"domain":[-0.23,2.5],"nice":false,"zero":false},"axis":{"title":"t (μs)","titleX":122,"values":[0,0.25,0.5,0.75,1,1.25,1.5,1.75,2,2.25,2.5],"labelExpr":"abs(datum.value-round(datum.value))<0.01?format(datum.value,'.1f'):''"}},
"y":{"field":"y","type":"quantitative","scale":{"domain":[0.746,1.024],"nice":false,"zero":false},"axis":{"title":"Echo","titleY":72,"values":[0.75,0.775,0.8,0.825,0.85,0.875,0.9,0.925,0.95,0.975,1],"labelExpr":"abs(datum.value*10-round(datum.value*10))<0.01?format(datum.value,'.1f'):''"}},
"color":{"field":"s","type":"nominal","legend":null}}},
{"bounds":"flush","spacing":83,"resolve":{"scale":{"color":"independent"},"legend":{"color":"independent"}},"hconcat":[
{"width":224,"height":175,"data":{"name":"r2b"},"mark":"line","encoding":{
"x":{"field":"x","type":"quantitative","scale":{"domain":[-0.25,2.52],"nice":false,"zero":false},"axis":{"title":"t (μs)","values":[0,0.25,0.5,0.75,1,1.25,1.5,1.75,2,2.25,2.5],"labelExpr":"abs(datum.value-round(datum.value))<0.01?format(datum.value,'.1f'):''"}},
"y":{"field":"y","type":"quantitative","scale":{"domain":[-0.221,1.115],"nice":false,"zero":false},"axis":{"title":"Normalized echo","titleY":77,"values":[-0.2,-0.1,0,0.1,0.2,0.3,0.4,0.5,0.6,0.7,0.8,0.9,1,1.1],"labelExpr":"datum.value>-0.01&&abs(datum.value*5-round(datum.value*5))<0.01?format(datum.value,'.1f'):''"}},
"color":{"field":"s","type":"nominal","legend":null}}},
{"bounds":"flush","spacing":62,"resolve":{"scale":{"color":"independent"},"legend":{"color":"independent"}},"hconcat":[
{"width":223,"height":175,"data":{"name":"r2c"},"mark":"line","encoding":{
"x":{"field":"x","type":"quantitative","scale":{"domain":[15.3,80.5],"nice":false,"zero":false},"axis":{"title":"r (Å)","values":[20,30,40,50,60,70,80],"format":"d","domain":false,"ticks":false,"labelPadding":2,"titlePadding":1}},
"y":{"field":"y","type":"quantitative","scale":{"domain":[0,1],"range":[170,0],"nice":false,"zero":false},"axis":{"title":"P (r)","titleY":69,"titleFontStyle":"italic","labels":false,"ticks":false,"titlePadding":22}},
"color":{"field":"s","type":"nominal","legend":{"title":null,"legendX":151,"legendY":-16,"labelExpr":"datum.label==='A'?'pH 4.0':datum.label==='B'?'pH 7.5':'R6G pH 7.5'"}}}},
{"width":253,"height":175,"data":{"name":"r2d"},"mark":"line","encoding":{
"x":{"field":"x","type":"quantitative","scale":{"domain":[0,100],"nice":false,"zero":false},"axis":null},
"y":{"field":"y","type":"quantitative","scale":{"domain":[-0.67,1.08],"nice":false,"zero":false},"axis":null},
"color":{"field":"s","type":"nominal","legend":null}}}
]}
]}
]}
]},
{"spacing":46,"resolve":{"scale":{"color":"independent"},"legend":{"color":"independent"}},
"vconcat":[
{"title":{"text":"44-364/Y37A","dx":-41,"offset":3},"bounds":"flush","spacing":106,"resolve":{"scale":{"color":"independent"},"legend":{"color":"independent"}},
"hconcat":[
{"width":224,"height":175,"data":{"name":"r3a"},"mark":"line","encoding":{
"x":{"field":"x","type":"quantitative","scale":{"domain":[-0.23,2.5],"nice":false,"zero":false},"axis":{"title":"t (μs)","titleX":122,"values":[0,0.25,0.5,0.75,1,1.25,1.5,1.75,2,2.25,2.5],"labelExpr":"abs(datum.value-round(datum.value))<0.01?format(datum.value,'.1f'):''"}},
"y":{"field":"y","type":"quantitative","scale":{"domain":[0.551,1.049],"nice":false,"zero":false},"axis":{"title":"Echo","titleY":74,"values":[0.6,0.65,0.7,0.75,0.8,0.85,0.9,0.95,1],"labelExpr":"abs(datum.value*10-round(datum.value*10))<0.01?format(datum.value,'.1f'):''"}},
"color":{"field":"s","type":"nominal","legend":null}}},
{"bounds":"flush","spacing":83,"resolve":{"scale":{"color":"independent"},"legend":{"color":"independent"}},"hconcat":[
{"width":224,"height":175,"data":{"name":"r3b"},"mark":"line","encoding":{
"x":{"field":"x","type":"quantitative","scale":{"domain":[-0.27,2.53],"nice":false,"zero":false},"axis":{"title":"t (μs)","values":[0,0.25,0.5,0.75,1,1.25,1.5,1.75,2,2.25,2.5],"labelExpr":"abs(datum.value-round(datum.value))<0.01?format(datum.value,'.1f'):''"}},
"y":{"field":"y","type":"quantitative","scale":{"domain":[-0.36,1.23],"range":[175,25],"nice":false,"zero":false},"axis":{"title":"Normalized echo","titleY":69,"labelFontSize":19,"values":[-0.3,-0.2,-0.1,0,0.1,0.2,0.3,0.4,0.5,0.6,0.7,0.8,0.9,1,1.1,1.2],"labelExpr":"datum.value>-0.01&&abs(datum.value*5-round(datum.value*5))<0.01?format(datum.value,'.1f'):''"}},
"color":{"field":"s","type":"nominal","legend":null}}},
{"bounds":"flush","spacing":52,"resolve":{"scale":{"color":"independent"},"legend":{"color":"independent"}},"hconcat":[
{"width":223,"height":175,"data":{"name":"r3c"},"mark":"line","encoding":{
"x":{"field":"x","type":"quantitative","scale":{"domain":[15.6,80.5],"nice":false,"zero":false},"axis":{"title":"r (Å)","values":[20,30,40,50,60,70,80],"format":"d","domain":false,"ticks":false,"labelPadding":2,"titlePadding":1}},
"y":{"field":"y","type":"quantitative","scale":{"domain":[0,1],"range":[172,0],"nice":false,"zero":false},"axis":{"title":"P (r)","titleY":69,"titleFontStyle":"italic","labels":false,"ticks":false,"titlePadding":22}},
"color":{"field":"s","type":"nominal","legend":{"title":null,"legendX":148,"legendY":-17,"labelExpr":"datum.label==='A'?'pH 4.0':datum.label==='B'?'pH 7.5':'R6G pH 7.5'"}}}},
{"width":255,"height":175,"data":{"name":"r3d"},"mark":"line","encoding":{
"x":{"field":"x","type":"quantitative","scale":{"domain":[0,100],"nice":false,"zero":false},"axis":null},
"y":{"field":"y","type":"quantitative","scale":{"domain":[-0.61,1.14],"nice":false,"zero":false},"axis":null},
"color":{"field":"s","type":"nominal","legend":null}}}
]}
]}
]},
{"spacing":50,"resolve":{"scale":{"color":"independent"},"legend":{"color":"independent"}},
"vconcat":[
{"title":{"text":"44-364/D41A","dx":-38,"offset":-7},"bounds":"flush","spacing":106,"resolve":{"scale":{"color":"independent"},"legend":{"color":"independent"}},
"hconcat":[
{"width":224,"height":175,"data":{"name":"r4a"},"mark":"line","encoding":{
"x":{"field":"x","type":"quantitative","scale":{"domain":[-0.23,2.5],"nice":false,"zero":false},"axis":{"title":"t (μs)","titleX":122,"values":[0,0.25,0.5,0.75,1,1.25,1.5,1.75,2,2.25,2.5],"labelExpr":"abs(datum.value-round(datum.value))<0.01?format(datum.value,'.1f'):''"}},
"y":{"field":"y","type":"quantitative","scale":{"domain":[0.747,1.025],"nice":false,"zero":false},"axis":{"title":"Echo","titleY":72,"values":[0.75,0.775,0.8,0.825,0.85,0.875,0.9,0.925,0.95,0.975,1],"labelExpr":"abs(datum.value*10-round(datum.value*10))<0.01?format(datum.value,'.1f'):''"}},
"color":{"field":"s","type":"nominal","legend":null}}},
{"bounds":"flush","spacing":83,"resolve":{"scale":{"color":"independent"},"legend":{"color":"independent"}},"hconcat":[
{"width":224,"height":175,"data":{"name":"r4b"},"mark":"line","encoding":{
"x":{"field":"x","type":"quantitative","scale":{"domain":[-0.25,2.52],"nice":false,"zero":false},"axis":{"title":"t (μs)","values":[0,0.25,0.5,0.75,1,1.25,1.5,1.75,2,2.25,2.5],"labelExpr":"abs(datum.value-round(datum.value))<0.01?format(datum.value,'.1f'):''"}},
"y":{"field":"y","type":"quantitative","scale":{"domain":[-0.09,1.14],"nice":false,"zero":false},"axis":{"title":"Normalized echo","titleY":82,"values":[0,0.1,0.2,0.3,0.4,0.5,0.6,0.7,0.8,0.9,1,1.1],"labelExpr":"datum.value>-0.01&&abs(datum.value*5-round(datum.value*5))<0.01?format(datum.value,'.1f'):''"}},
"color":{"field":"s","type":"nominal","legend":null}}},
{"bounds":"flush","spacing":32,"resolve":{"scale":{"color":"independent"},"legend":{"color":"independent"}},"hconcat":[
{"width":223,"height":175,"data":{"name":"r4c"},"mark":"line","encoding":{
"x":{"field":"x","type":"quantitative","scale":{"domain":[15.3,80.5],"nice":false,"zero":false},"axis":{"title":"r (Å)","values":[20,30,40,50,60,70,80],"format":"d","domain":false,"ticks":false,"labelPadding":2,"titlePadding":1}},
"y":{"field":"y","type":"quantitative","scale":{"domain":[0,1],"range":[170,0],"nice":false,"zero":false},"axis":{"title":"P (r)","titleY":70,"titleFontStyle":"italic","labels":false,"ticks":false,"titlePadding":22}},
"color":{"field":"s","type":"nominal","legend":{"title":null,"legendX":148,"legendY":-21,"labelExpr":"datum.label==='A'?'pH 4.0':datum.label==='B'?'pH 7.5':'R6G pH 7.5'"}}}},
{"width":252,"height":175,"data":{"name":"r4d"},"mark":"line","encoding":{
"x":{"field":"x","type":"quantitative","scale":{"domain":[0,100],"nice":false,"zero":false},"axis":null},
"y":{"field":"y","type":"quantitative","scale":{"domain":[-0.51,1.24],"nice":false,"zero":false},"axis":null},
"color":{"field":"s","type":"nominal","legend":null}}}
]}
]}
]},
{"title":{"text":"44-364/E163A","dx":-38,"offset":-2},"bounds":"flush","spacing":106,"resolve":{"scale":{"color":"independent"},"legend":{"color":"independent"}},
"hconcat":[
{"width":224,"height":175,"data":{"name":"r5a"},"mark":"line","encoding":{
"x":{"field":"x","type":"quantitative","scale":{"domain":[-0.26,2.02],"nice":false,"zero":false},"axis":{"title":"t (μs)","titleX":126,"values":[0,0.25,0.5,0.75,1,1.25,1.5,1.75,2],"labelExpr":"abs(datum.value-round(datum.value))<0.01?format(datum.value,'.1f'):''"}},
"y":{"field":"y","type":"quantitative","scale":{"domain":[0.619,1.05],"nice":false,"zero":false},"axis":{"title":"Echo","titleY":73,"values":[0.65,0.7,0.75,0.8,0.85,0.9,0.95,1,1.05],"labelExpr":"abs(datum.value*10-round(datum.value*10))<0.01?format(datum.value,'.1f'):''"}},
"color":{"field":"s","type":"nominal","legend":null}}},
{"bounds":"flush","spacing":85,"resolve":{"scale":{"color":"independent"},"legend":{"color":"independent"}},"hconcat":[
{"width":224,"height":175,"data":{"name":"r5b"},"mark":"line","encoding":{
"x":{"field":"x","type":"quantitative","scale":{"domain":[-0.24,2.02],"nice":false,"zero":false},"axis":{"title":"t (μs)","values":[0,0.25,0.5,0.75,1,1.25,1.5,1.75,2],"labelExpr":"abs(datum.value-round(datum.value))<0.01?format(datum.value,'.1f'):''"}},
"y":{"field":"y","type":"quantitative","scale":{"domain":[-0.127,1.108],"nice":false,"zero":false},"axis":{"title":"Normalized echo","titleY":83,"values":[-0.1,0,0.1,0.2,0.3,0.4,0.5,0.6,0.7,0.8,0.9,1,1.1],"labelExpr":"datum.value>-0.01&&abs(datum.value*5-round(datum.value*5))<0.01?format(datum.value,'.1f'):''"}},
"color":{"field":"s","type":"nominal","legend":null}}},
{"bounds":"flush","spacing":31,"resolve":{"scale":{"color":"independent"},"legend":{"color":"independent"}},"hconcat":[
{"width":223,"height":175,"data":{"name":"r5c"},"mark":"line","encoding":{
"x":{"field":"x","type":"quantitative","scale":{"domain":[16.6,82.4],"nice":false,"zero":false},"axis":{"title":"r (Å)","values":[20,30,40,50,60,70,80],"format":"d","domain":false,"ticks":false,"labelPadding":2,"titlePadding":1}},
"y":{"field":"y","type":"quantitative","scale":{"domain":[0,1],"range":[173,0],"nice":false,"zero":false},"axis":{"title":"P (r)","titleY":71,"titleFontStyle":"italic","labels":false,"ticks":false,"titlePadding":22}},
"color":{"field":"s","type":"nominal","legend":{"title":null,"legendX":144,"legendY":-14,"labelExpr":"datum.label==='A'?'pH 4.0':datum.label==='B'?'pH 7.5':'R6G pH 7.5'"}}}},
{"width":255,"height":175,"data":{"name":"r5d"},"mark":"line","encoding":{
"x":{"field":"x","type":"quantitative","scale":{"domain":[0,100],"nice":false,"zero":false},"axis":null},
"y":{"field":"y","type":"quantitative","scale":{"domain":[-0.49,1.26],"nice":false,"zero":false},"axis":null},
"color":{"field":"s","type":"nominal","legend":null}}}
]}
]}
]}
]}
]}
]
}
